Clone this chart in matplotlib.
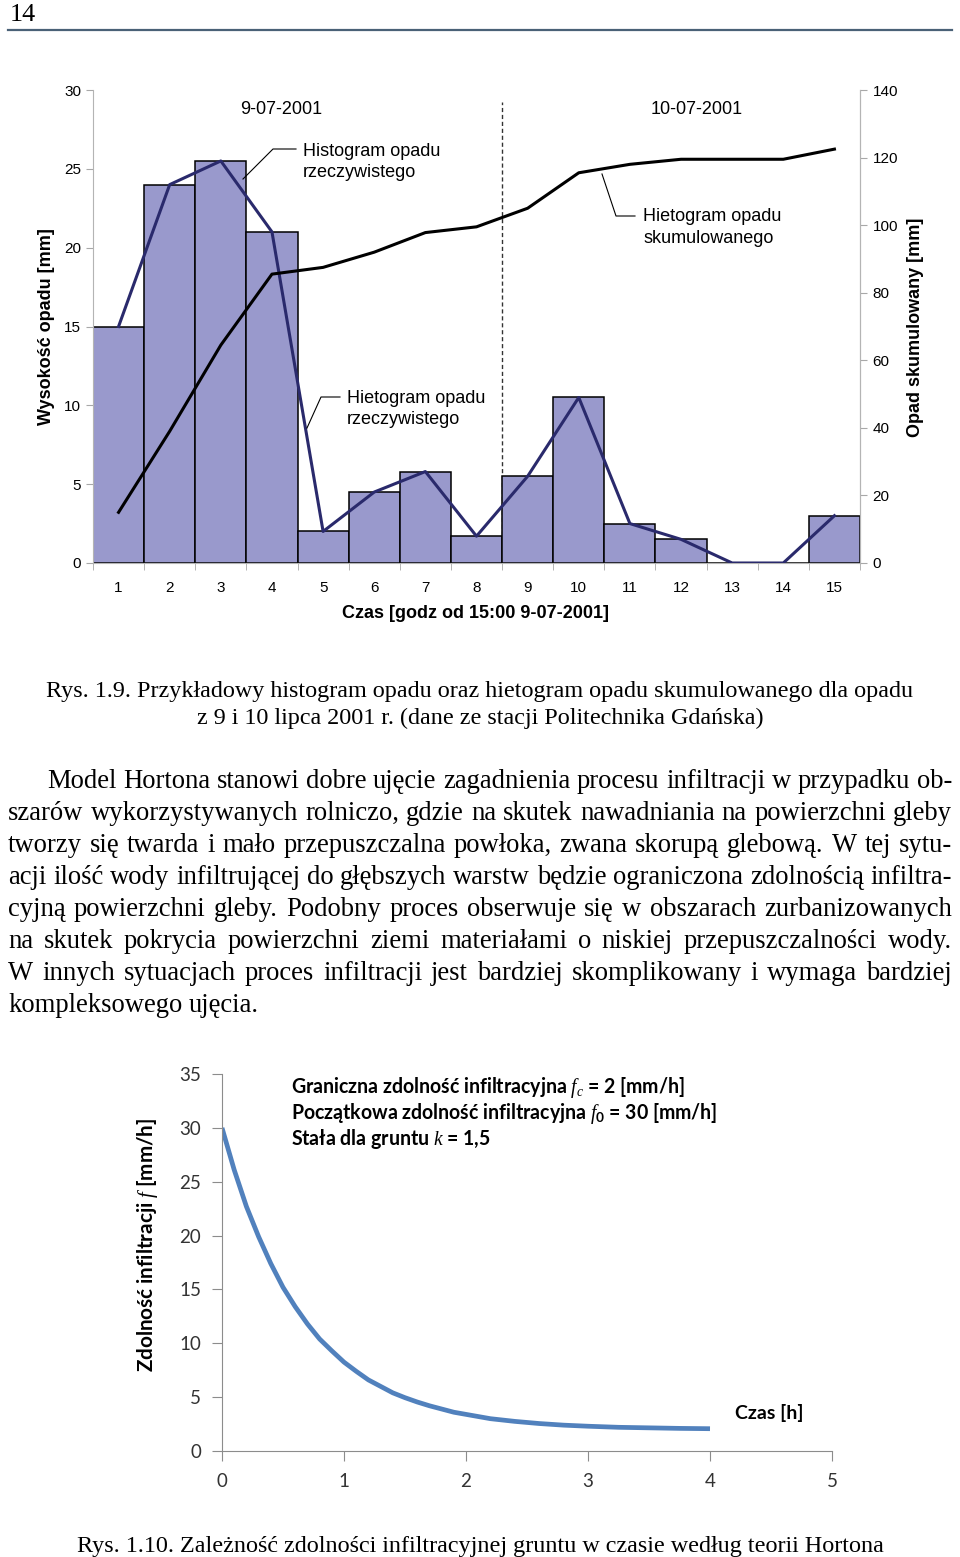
import matplotlib
matplotlib.use('Agg')
import matplotlib.pyplot as plt
from matplotlib.lines import Line2D

plt.rcParams['font.family'] = ['Liberation Sans', 'DejaVu Sans']
plt.rcParams['mathtext.fontset'] = 'custom'
plt.rcParams['mathtext.it'] = 'Liberation Serif:italic'
plt.rcParams['mathtext.rm'] = 'Lato:bold'
plt.rcParams['mathtext.bf'] = 'Lato:bold'

W, H, DPI = 960, 1557, 100

# ---------------- data: chart 1 (rainfall) ----------------
hours = list(range(1, 16))
hour_labels = [str(h) for h in hours]
rain_mm = [15, 24, 25.5, 21, 2, 4.5, 5.8, 1.7, 5.5, 10.5, 2.5, 1.5, 0, 0, 3]
cum_mm = [15, 39, 64.5, 85.5, 87.5, 92, 97.8, 99.5, 105, 115.5, 118, 119.5, 119.5, 119.5, 122.5]
left_ticks = [0, 5, 10, 15, 20, 25, 30]
right_ticks = [0, 20, 40, 60, 80, 100, 120, 140]
day_labels = ['9-07-2001', '10-07-2001']
day_split = 8.5

# ---------------- data: chart 2 (Horton curve) ----------------
t_h = [0, 0.1, 0.2, 0.3, 0.4, 0.5, 0.6, 0.7, 0.8, 0.9, 1.0, 1.1, 1.2, 1.3, 1.4,
       1.5, 1.6, 1.7, 1.8, 1.9, 2.0, 2.2, 2.4, 2.6, 2.8, 3.0, 3.25, 3.5, 3.75, 4.0]
f_mmh = [30.0, 26.1, 22.7, 19.9, 17.4, 15.2, 13.4, 11.8, 10.4, 9.3, 8.25, 7.4, 6.6,
         6.0, 5.4, 4.95, 4.55, 4.2, 3.9, 3.6, 3.4, 3.0, 2.75, 2.55, 2.4, 2.3, 2.2,
         2.15, 2.1, 2.07]
x2_ticks = [0, 1, 2, 3, 4, 5]
y2_ticks = [0, 5, 10, 15, 20, 25, 30, 35]

# ---------------- texts ----------------
caption1 = ['Rys. 1.9. Przykładowy histogram opadu oraz hietogram opadu skumulowanego dla opadu',
            'z 9 i 10 lipca 2001 r. (dane ze stacji Politechnika Gdańska)']
paragraph = [
    'Model Hortona stanowi dobre ujęcie zagadnienia procesu infiltracji w przypadku ob-',
    'szarów wykorzystywanych rolniczo, gdzie na skutek nawadniania na powierzchni gleby',
    'tworzy się twarda i mało przepuszczalna powłoka, zwana skorupą glebową. W tej sytu-',
    'acji ilość wody infiltrującej do głębszych warstw będzie ograniczona zdolnością infiltra-',
    'cyjną powierzchni gleby. Podobny proces obserwuje się w obszarach zurbanizowanych',
    'na skutek pokrycia powierzchni ziemi materiałami o niskiej przepuszczalności wody.',
    'W innych sytuacjach proces infiltracji jest bardziej skomplikowany i wymaga bardziej',
    'kompleksowego ujęcia.',
]
caption2 = 'Rys. 1.10. Zależność zdolności infiltracyjnej gruntu w czasie według teorii Hortona'
notes2 = ['Graniczna zdolność infiltracyjna $f_c$ = 2 [mm/h]',
          r'Początkowa zdolność infiltracyjna $f_{\mathit{0}}$ = 30 [mm/h]',
          'Stała dla gruntu $k$ = 1,5']

fig = plt.figure(figsize=(W / DPI, H / DPI), dpi=DPI, facecolor='white')
renderer = fig.canvas.get_renderer()


def fx(x):
    return x / W


def fy(y):
    return 1 - y / H


def measure(s, **kw):
    t = fig.text(0, 0, s, **kw)
    bb = t.get_window_extent(renderer)
    t.remove()
    return bb.width


def fit_size(s, target, base=20, **kw):
    return base * target / measure(s, fontsize=base, **kw)


def fline(x, y, **kw):
    fig.add_artist(Line2D([fx(v) for v in x], [fy(v) for v in y], **kw))


SERIF = 'Liberation Serif'
CAL = ['Lato', 'DejaVu Sans']

# ---------------- header ----------------
fs = fit_size('14', 26, family=SERIF)
fig.text(fx(10), fy(21), '14', family=SERIF, fontsize=fs, va='baseline')
fline([8, 952], [30, 30], color='#4a6177', lw=1.6)

# ---------------- chart 1 ----------------
ax = fig.add_axes([fx(93), fy(563), (860 - 93) / W, (563 - 90) / H])
ax.bar(hours, rain_mm, width=1.0, color='#9999cc', edgecolor='black', linewidth=1.1, zorder=2)
ax.plot(hours, rain_mm, color='#2a2a6c', lw=2.2, zorder=3)
ax.set_xlim(0.5, 15.5)
ax.set_ylim(0, 30)
ax.set_yticks(left_ticks)
ax.set_xticks(hours, hour_labels)
ax.set_xticks([h - 0.5 for h in hours] + [15.5], minor=True)
ax.tick_params(axis='x', which='major', length=0, pad=13, labelsize=11)
ax.tick_params(axis='x', which='minor', length=5, color='#a8a8a8')
ax.tick_params(axis='y', length=5, color='#a8a8a8', pad=3.5, labelsize=11)
ax.spines['top'].set_visible(False)
for s in ['left', 'bottom', 'right']:
    ax.spines[s].set_color('#b4b4b4')
ax.axvline(day_split, ymin=0, ymax=29.25 / 30, color='#333333', lw=1.0, ls=(0, (3, 2)), zorder=1)

ax2 = ax.twinx()
ax2.plot(hours, cum_mm, color='black', lw=2.2, zorder=4)
ax2.set_ylim(0, 140)
ax2.set_yticks(right_ticks)
ax2.tick_params(axis='y', length=5, color='#a8a8a8', pad=4, labelsize=11)
ax2.spines['top'].set_visible(False)
ax2.spines['left'].set_visible(False)
ax2.spines['bottom'].set_visible(False)
ax2.spines['right'].set_color('#b4b4b4')

fig.text(fx(47), fy(327), 'Wysokość opadu [mm]', rotation=90, ha='center', va='center',
         fontsize=13, fontweight='bold')
fig.text(fx(916), fy(327), 'Opad skumulowany [mm]', rotation=90, ha='center', va='center',
         fontsize=13, fontweight='bold')
fig.text(fx(476), fy(614), 'Czas [godz od 15:00 9-07-2001]', ha='center', va='center',
         fontsize=13, fontweight='bold')
fig.text(fx(281), fy(114), day_labels[0], ha='center', va='baseline', fontsize=13)
fig.text(fx(697), fy(114), day_labels[1], ha='center', va='baseline', fontsize=13)

fig.text(fx(303), fy(156), 'Histogram opadu', va='baseline', fontsize=13)
fig.text(fx(303), fy(177), 'rzeczywistego', va='baseline', fontsize=13)
fline([243, 273, 296], [179, 149, 149], color='black', lw=0.8)

fig.text(fx(347), fy(403), 'Hietogram opadu', va='baseline', fontsize=13)
fig.text(fx(347), fy(424), 'rzeczywistego', va='baseline', fontsize=13)
fline([307, 321, 340], [428, 397, 397], color='black', lw=0.8)

fig.text(fx(643), fy(221), 'Hietogram opadu', va='baseline', fontsize=13)
fig.text(fx(643), fy(243), 'skumulowanego', va='baseline', fontsize=13)
fline([602, 616, 635], [174, 216, 216], color='black', lw=0.8)

# ---------------- caption 1 ----------------
fs_c = fit_size(caption1[0], 868, family=SERIF)
fig.text(fx(480), fy(697), caption1[0], family=SERIF, fontsize=fs_c, ha='center', va='baseline')
fig.text(fx(480), fy(724), caption1[1], family=SERIF, fontsize=fs_c, ha='center', va='baseline')

# ---------------- paragraph (justified) ----------------
starts = [47] + [8] * (len(paragraph) - 1)
right_edge = 952
base = 20
ratios = []
for ln, x0 in zip(paragraph[:-1], starts[:-1]):
    ratios.append((right_edge - x0) / measure(ln, fontsize=base, family=SERIF))
fs_p = base * min(ratios)
space_w = measure('a a', fontsize=fs_p, family=SERIF) - measure('aa', fontsize=fs_p, family=SERIF)
for i, (ln, x0) in enumerate(zip(paragraph, starts)):
    yb = 788 + 32.0 * i
    words = ln.split(' ')
    widths = [measure(w, fontsize=fs_p, family=SERIF) for w in words]
    if i == len(paragraph) - 1:
        gap = space_w
    else:
        gap = (right_edge - x0 - sum(widths)) / (len(words) - 1)
    x = x0
    for w, wd in zip(words, widths):
        fig.text(fx(x), fy(yb), w, family=SERIF, fontsize=fs_p, va='baseline')
        x += wd + gap

# ---------------- chart 2 ----------------
ax3 = fig.add_axes([fx(222), fy(1451), (832 - 222) / W, (1451 - 1074) / H])
ax3.plot(t_h, f_mmh, color='#5181bd', lw=3.4, solid_capstyle='butt')
ax3.set_xlim(0, 5)
ax3.set_ylim(0, 35)
ax3.set_xticks(x2_ticks)
ax3.set_yticks(y2_ticks)
for s in ['top', 'right']:
    ax3.spines[s].set_visible(False)
for s in ['left', 'bottom']:
    ax3.spines[s].set_color('#8c8c8c')
ax3.tick_params(axis='both', length=7, color='#8c8c8c', labelsize=13.5, labelcolor='#333333')
ax3.tick_params(axis='y', pad=8)
ax3.tick_params(axis='x', pad=9)
for lab in ax3.get_xticklabels() + ax3.get_yticklabels():
    lab.set_family(CAL)

ylab2 = 'Zdolność infiltracji $f$ [mm/h]'
fs_y2 = fit_size(ylab2, 254, family=CAL, fontweight='bold')
fig.text(fx(148), fy(1245), ylab2, family=CAL, fontweight='bold', fontsize=fs_y2,
         rotation=90, ha='center', va='center')

fs_n = fit_size(notes2[1], 426, family=CAL, fontweight='bold')
for i, s in enumerate(notes2):
    fig.text(fx(291), fy(1093 + 26 * i), s, family=CAL, fontweight='bold', fontsize=fs_n,
             va='baseline')

fs_cz = fit_size('Czas [h]', 68, family=CAL, fontweight='bold')
fig.text(fx(735), fy(1419), 'Czas [h]', family=CAL, fontweight='bold', fontsize=fs_cz,
         va='baseline')

# ---------------- caption 2 ----------------
fs_c2 = fit_size(caption2, 805, family=SERIF)
fig.text(fx(480.5), fy(1552), caption2, family=SERIF, fontsize=fs_c2, ha='center', va='baseline')

fig.savefig('out.png', dpi=DPI, facecolor='white')
